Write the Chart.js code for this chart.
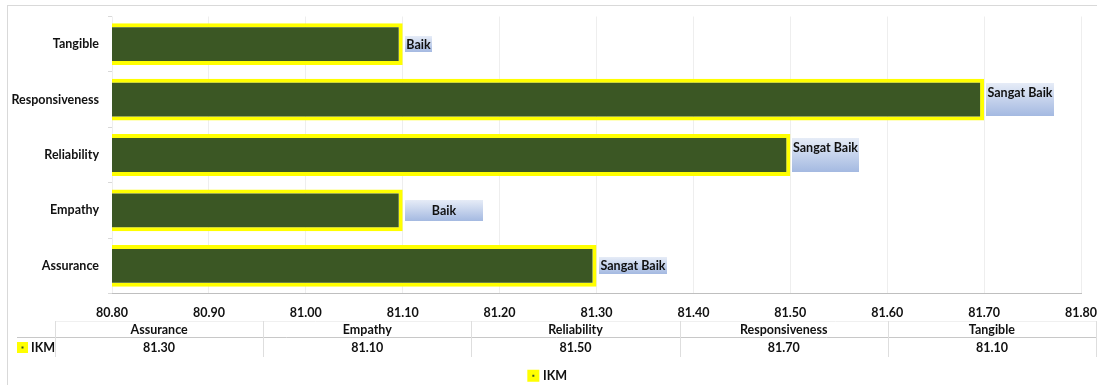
<!DOCTYPE html>
<html>
<head>
<meta charset="utf-8">
<script src="https://cdn.jsdelivr.net/npm/chart.js@4.4.1/dist/chart.umd.min.js"></script>
<style>
  html, body { margin: 0; padding: 0; background: #fff; }
  #wrap { width: 1097px; height: 385px; position: relative; }
</style>
</head>
<body>
<div id="wrap"><canvas id="ikmChart"></canvas></div>
<script>
// ——— data ———
const categories   = ['Assurance', 'Empathy', 'Reliability', 'Responsiveness', 'Tangible'];
const ikmValues    = [81.30, 81.10, 81.50, 81.70, 81.10];
const ratingLabels = ['Sangat Baik', 'Baik', 'Sangat Baik', 'Sangat Baik', 'Baik'];
const seriesName   = 'IKM';
const axisMin = 80.80, axisMax = 81.80, axisStep = 0.10;

// ——— look ———
const FONT      = 'Lato, "Open Sans", sans-serif';
const FONT_SIZE = 12.5;
const TEXT      = '#111111';
const BAR_GREEN = '#3b5724';
const BAR_EDGE  = '#ffff00';
// rating tag shapes, one per bar (w/h in px, top = text sits at the top)
const tagShapes = [
  { w: 68, h: 17 },
  { w: 78, h: 21 },
  { w: 67, h: 34, top: true },
  { w: 68, h: 33, top: true },
  { w: 27, h: 16 }
];

const boldFont = size => `bold ${size}px ${FONT}`;

// light frame round the whole chart
const chartFrame = {
  id: 'chartFrame',
  beforeDraw(chart) {
    const { ctx } = chart;
    ctx.save();
    ctx.strokeStyle = '#d9d9d9';
    ctx.lineWidth = 1;
    ctx.strokeRect(7.5, 5.5, chart.width + 10, chart.height + 10);
    ctx.restore();
  }
};

// gradient tags with the rating text next to each bar
const ratingTags = {
  id: 'ratingTags',
  afterDatasetsDraw(chart) {
    const { ctx } = chart;
    const meta = chart.getDatasetMeta(0);
    ctx.save();
    ctx.font = boldFont(FONT_SIZE);
    ctx.textAlign = 'center';
    ctx.textBaseline = 'middle';
    meta.data.forEach((bar, i) => {
      const tag = tagShapes[i];
      const x = Math.round(bar.x) + 2;
      const y = Math.round(bar.y - tag.h / 2);
      const g = ctx.createLinearGradient(0, y, 0, y + tag.h);
      g.addColorStop(0, '#e6ecf7');
      g.addColorStop(1, '#a4b9e1');
      ctx.fillStyle = g;
      ctx.fillRect(x, y, tag.w, tag.h);
      ctx.fillStyle = TEXT;
      const ty = tag.top ? y + 10 : bar.y + 0.5;
      ctx.fillText(ratingLabels[i], x + tag.w / 2, ty);
    });
    ctx.restore();
  }
};

// data table under the value axis
const dataTable = {
  id: 'dataTable',
  afterDraw(chart) {
    const { ctx } = chart;
    const left = 55, right = chart.width - 1;
    const top = 321, mid = 337, bottom = 357;
    const colW = (right - left) / categories.length;

    const hLine = (x1, x2, y, c) => {
      ctx.strokeStyle = c;
      ctx.beginPath(); ctx.moveTo(x1, y + 0.5); ctx.lineTo(x2, y + 0.5); ctx.stroke();
    };

    ctx.save();
    ctx.lineWidth = 1;
    hLine(left, right, top, '#f0f0f0');
    hLine(17, right, mid, '#c8c8c8');
    ctx.strokeStyle = '#dedede';
    for (let i = 0; i <= categories.length; i++) {
      const x = Math.round(left + i * colW) + 0.5;
      ctx.beginPath(); ctx.moveTo(x, top); ctx.lineTo(x, bottom); ctx.stroke();
    }

    ctx.font = boldFont(FONT_SIZE);
    ctx.fillStyle = TEXT;
    ctx.textAlign = 'center';
    ctx.textBaseline = 'middle';
    categories.forEach((c, i) => {
      const cx = left + colW * (i + 0.5);
      ctx.fillText(c, cx, 330);
      ctx.fillText(ikmValues[i].toFixed(2), cx, 347.5);
    });

    // series key in the first column
    ctx.fillStyle = BAR_EDGE;
    ctx.fillRect(17, 342, 11, 11);
    ctx.fillStyle = BAR_GREEN;
    ctx.fillRect(21.5, 346.5, 2, 2);
    ctx.fillStyle = TEXT;
    ctx.textAlign = 'left';
    ctx.fillText(seriesName, 31, 347.5);
    ctx.restore();
  }
};

new Chart(document.getElementById('ikmChart'), {
  type: 'bar',
  data: {
    labels: categories,
    datasets: [{
      label: seriesName,
      data: ikmValues,
      backgroundColor: BAR_GREEN,
      borderColor: BAR_EDGE,
      borderWidth: 4,
      borderSkipped: false,
      barPercentage: 0.755,
      categoryPercentage: 1
    }]
  },
  options: {
    indexAxis: 'y',
    responsive: true,
    maintainAspectRatio: false,
    animation: false,
    layout: { padding: { top: 13, right: 0, left: 0, bottom: -7 } },
    scales: {
      x: {
        min: axisMin,
        max: axisMax,
        ticks: {
          stepSize: axisStep,
          autoSkip: false,
          maxRotation: 0,
          padding: 0,
          color: TEXT,
          font: { family: FONT, size: FONT_SIZE, weight: 'bold' },
          callback: v => Number(v).toFixed(2)
        },
        // invisible tick marks only push the labels down
        grid: { color: '#eeeeee', drawTicks: true, tickLength: 12, tickColor: 'rgba(0,0,0,0)' },
        border: { display: true, color: '#bfbfbf' },
        afterFit(scale) { scale.height = 71; }
      },
      y: {
        reverse: true,
        ticks: {
          padding: 9,
          color: TEXT,
          font: { family: FONT, size: FONT_SIZE, weight: 'bold' }
        },
        grid: { drawOnChartArea: false, offset: true, tickLength: 4, color: '#d9d9d9' },
        border: { display: false },
        afterFit(scale) { scale.width = 112; }
      }
    },
    plugins: {
      tooltip: { enabled: false },
      legend: {
        position: 'bottom',
        labels: {
          boxWidth: 7,
          boxHeight: 7,
          padding: 5,
          color: TEXT,
          font: { family: FONT, size: FONT_SIZE, weight: 'bold' },
          generateLabels: () => [{
            text: seriesName,
            fillStyle: BAR_GREEN,
            strokeStyle: BAR_EDGE,
            lineWidth: 5,
            fontColor: TEXT,
            datasetIndex: 0
          }]
        }
      }
    }
  },
  plugins: [chartFrame, ratingTags, dataTable]
});
</script>
</body>
</html>
